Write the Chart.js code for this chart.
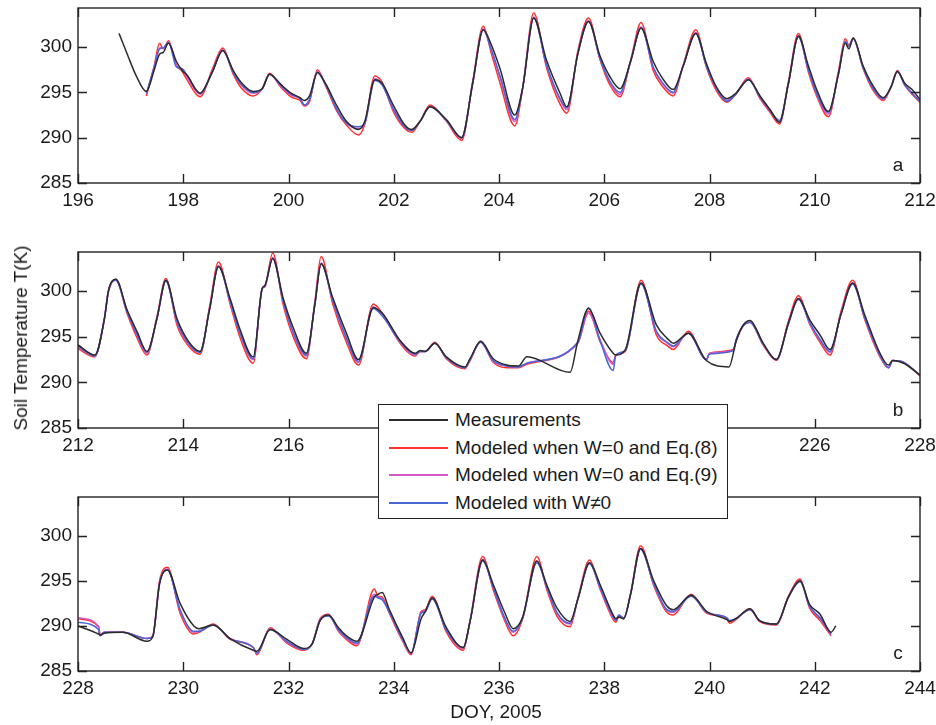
<!DOCTYPE html>
<html>
<head>
<meta charset="utf-8">
<script src="https://cdn.jsdelivr.net/npm/chart.js@4.4.0/dist/chart.umd.min.js"></script>
<style>
  body { margin: 0; background: #fff; }
  #wrap { position: relative; width: 936px; height: 725px; font-family: "Liberation Sans", Arial, sans-serif; color: #1a1a1a; }
  canvas { position: absolute; left: 0; }
  #ylab { position: absolute; left: 21px; top: 338px; transform: translate(-50%, -50%) rotate(-90deg); font-size: 19px; white-space: nowrap; }
  #xlab { position: absolute; left: 496px; top: 712px; transform: translate(-50%, -50%); font-size: 19px; white-space: nowrap; }
  #legend { position: absolute; left: 378px; top: 404px; width: 350px; height: 115px; box-sizing: border-box; border: 1.5px solid #222; background: #fff; z-index: 5; }
  .row { position: absolute; left: 10px; height: 24px; display: flex; align-items: center; font-size: 19px; white-space: nowrap; }
  .row .ln { display: inline-block; width: 59px; height: 2px; }
  .row .tx { margin-left: 7px; }
</style>
</head>
<body>
<div id="wrap">
  <canvas id="panelA" width="936" height="215" style="top:0px"></canvas>
  <canvas id="panelB" width="936" height="216" style="top:244px"></canvas>
  <canvas id="panelC" width="936" height="214" style="top:489px"></canvas>
  <div id="ylab">Soil Temperature T(K)</div>
  <div id="xlab">DOY, 2005</div>
  <div id="legend">
    <div class="row" style="top:3px"><span class="ln" style="background:#2b2b2b"></span><span class="tx">Measurements</span></div>
    <div class="row" style="top:31px"><span class="ln" style="background:#ff3030"></span><span class="tx">Modeled when W=0 and Eq.(8)</span></div>
    <div class="row" style="top:58px"><span class="ln" style="background:#d45ac8"></span><span class="tx">Modeled when W=0 and Eq.(9)</span></div>
    <div class="row" style="top:86px"><span class="ln" style="background:#4a66d6"></span><span class="tx">Modeled with W≠0</span></div>
  </div>
</div>
<script>
// panel a: DOY 196-212
const doyA = [196.78, 196.95, 197.10, 197.30, 197.45, 197.55, 197.62, 197.72, 197.87, 197.98,
  198.07, 198.32, 198.55, 198.75, 198.95, 199.10, 199.33, 199.50, 199.64, 199.85,
  200.05, 200.22, 200.30, 200.40, 200.55, 200.70, 200.92, 201.10, 201.33, 201.45,
  201.64, 201.78, 201.99, 202.21, 202.34, 202.50, 202.69, 203.00, 203.29, 203.50,
  203.70, 203.85, 204.02, 204.30, 204.45, 204.66, 204.90, 205.16, 205.29, 205.50,
  205.70, 205.92, 206.10, 206.30, 206.50, 206.70, 206.93, 207.10, 207.31, 207.50,
  207.74, 207.94, 208.13, 208.33, 208.50, 208.74, 208.96, 209.15, 209.33, 209.50,
  209.69, 209.88, 210.05, 210.26, 210.45, 210.58, 210.65, 210.73, 210.92, 211.10,
  211.30, 211.45, 211.57, 211.71, 211.85, 212.00];
const measA = [301.5, 299.0, 296.9, 295.1, 297.5, 299.2, 299.4, 300.4, 298.4, 297.4,
  296.9, 294.9, 297.2, 299.6, 297.4, 296.1, 295.1, 295.4, 297.0, 295.9,
  294.9, 294.4, 294.1, 294.6, 297.2, 296.0, 293.5, 291.8, 290.9, 291.8,
  296.4, 296.0, 293.6, 291.4, 290.9, 291.8, 293.4, 292.0, 290.0, 296.0,
  301.9, 300.3, 297.6, 292.5, 295.5, 303.2, 298.6, 294.9, 293.4, 299.3,
  302.8, 299.0, 296.8, 295.4, 298.4, 302.1, 298.4, 296.6, 295.3, 297.9,
  301.5, 298.2, 295.6, 294.3, 294.9, 296.4, 294.6, 293.1, 291.7, 296.0,
  301.2, 297.9, 295.1, 292.9, 297.0, 300.4, 299.8, 301.0, 297.9, 295.8,
  294.4, 295.6, 297.3, 296.0, 295.3, 294.2];
const eq8A = [null, null, null, 294.6, 298.0, 300.4, 299.8, 300.7, 298.0, 297.3,
  296.4, 294.5, 297.5, 299.9, 297.0, 295.5, 294.6, 295.4, 297.1, 295.6,
  294.5, 294.1, 293.5, 294.0, 297.5, 295.8, 292.9, 291.4, 290.3, 291.5,
  296.8, 296.1, 292.9, 291.0, 290.6, 291.8, 293.6, 291.8, 289.7, 296.2,
  302.3, 299.4, 296.0, 291.3, 295.5, 303.75, 297.8, 293.7, 292.7, 299.6,
  303.2, 298.6, 295.9, 294.5, 298.5, 302.7, 297.4, 295.7, 294.6, 298.0,
  301.9, 297.8, 295.2, 293.9, 294.8, 296.6, 294.3, 292.8, 291.5, 296.2,
  301.5, 297.2, 294.4, 292.3, 297.3, 300.9, 300.2, 301.0, 297.6, 295.3,
  294.1, 295.6, 297.4, 295.8, 294.8, 293.9];
const eq9A = [null, null, null, 294.8, 297.8, 299.9, 299.9, 300.5, 298.0, 297.5,
  296.7, 294.8, 297.3, 299.7, 297.2, 295.8, 294.9, 295.4, 297.0, 295.7,
  294.7, 294.3, 293.6, 294.2, 297.3, 295.9, 293.1, 291.6, 291.0, 291.6,
  296.5, 295.9, 293.1, 291.2, 290.8, 291.8, 293.4, 291.9, 289.9, 296.0,
  302.0, 299.7, 296.6, 291.8, 295.5, 303.3, 298.0, 294.2, 293.1, 299.4,
  302.9, 298.7, 296.2, 294.8, 298.4, 302.2, 297.7, 296.0, 294.9, 297.9,
  301.6, 297.9, 295.4, 294.1, 294.8, 296.5, 294.4, 293.0, 291.7, 296.0,
  301.2, 297.4, 294.6, 292.6, 297.1, 300.6, 300.1, 300.9, 297.7, 295.5,
  294.2, 295.6, 297.3, 295.9, 294.9, 294.0];
const wneA = [null, null, null, 294.9, 297.8, 299.8, 299.9, 300.5, 297.8, 297.6,
  296.9, 294.9, 297.2, 299.6, 297.2, 295.9, 295.0, 295.4, 297.0, 295.8,
  294.8, 294.3, 293.6, 294.2, 297.2, 295.9, 293.1, 291.6, 291.2, 291.6,
  296.3, 295.8, 293.2, 291.2, 290.8, 291.8, 293.4, 291.9, 290.0, 296.0,
  301.9, 299.8, 296.8, 292.0, 295.5, 303.2, 298.1, 294.3, 293.3, 299.3,
  302.8, 298.7, 296.3, 295.0, 298.4, 302.1, 297.8, 296.1, 295.0, 297.9,
  301.5, 297.9, 295.5, 294.0, 294.8, 296.4, 294.5, 293.0, 291.9, 296.0,
  301.1, 297.5, 294.7, 292.8, 297.0, 300.6, 300.1, 300.9, 297.7, 295.5,
  294.3, 295.6, 297.3, 295.8, 294.9, 294.0];

// panel b: DOY 212-228
const doyB = [212.00, 212.32, 212.50, 212.58, 212.72, 212.93, 213.12, 213.31, 213.50, 213.67,
  213.88, 214.10, 214.32, 214.50, 214.67, 214.89, 215.08, 215.33, 215.50, 215.55,
  215.70, 215.90, 216.09, 216.34, 216.50, 216.62, 216.84, 217.10, 217.33, 217.61,
  217.78, 218.12, 218.41, 218.50, 218.60, 218.78, 219.00, 219.35, 219.45, 219.65,
  219.89, 220.15, 220.37, 220.53, 221.35, 221.50, 221.70, 221.92, 222.17, 222.22,
  222.40, 222.70, 222.99, 223.20, 223.31, 223.60, 223.94, 224.00, 224.37, 224.45,
  224.51, 224.64, 224.77, 225.02, 225.27, 225.50, 225.69, 225.91, 226.10, 226.29,
  226.50, 226.72, 226.95, 227.24, 227.40, 227.48, 227.69, 228.00];
const measB = [294.1, 293.0, 296.9, 300.1, 301.3, 298.0, 295.6, 293.4, 297.0, 301.2,
  297.0, 294.5, 293.4, 298.0, 302.7, 299.2, 295.8, 292.8, 300.3, 300.6,
  303.6, 299.2, 296.0, 293.2, 298.5, 303.0, 299.3, 295.4, 292.5, 298.2,
  297.6, 294.6, 293.2, 293.5, 293.4, 294.3, 292.8, 291.7, 292.6, 294.5,
  292.6, 291.9, 291.8, 292.8, 291.1, 294.6, 298.1, 295.4, 293.2, 293.0,
  293.6, 300.9, 296.3, 294.8, 294.3, 295.4, 292.4, null, 291.7, null,
  294.6, 296.3, 296.8, 294.3, 292.5, 296.5, 299.2, 296.8, 295.2, 293.6,
  297.5, 300.9, 297.4, 293.2, 291.9, 292.4, 292.1, 290.8];
const eq8B = [293.7, 292.8, 297.0, 300.0, 301.3, 297.6, 294.9, 293.0, 297.2, 301.4,
  296.3, 294.0, 293.1, 298.3, 303.2, 298.6, 294.9, 292.1, 300.3, 300.5,
  304.2, 298.5, 295.0, 292.6, 298.8, 303.8, 298.6, 294.4, 291.9, 298.6,
  297.6, 294.3, 292.9, 293.4, 293.4, 294.4, 292.6, 291.5, 292.4, 294.5,
  292.2, 291.6, 291.6, 292.0, null, 294.4, 297.8, 294.5, 292.2, 293.0,
  293.4, 301.2, 295.2, 294.0, 293.6, 295.6, 292.5, 293.2, null, 293.6,
  294.6, 296.2, 296.6, 294.1, 292.4, 296.7, 299.5, 296.3, 294.4, 293.0,
  297.8, 301.2, 296.9, 292.8, 291.6, 292.4, 292.2, 290.7];
const eq9B = [293.9, 292.9, 296.9, 300.0, 301.2, 297.8, 295.2, 293.2, 297.0, 301.2,
  296.6, 294.2, 293.3, 298.1, 302.8, 298.8, 295.3, 292.5, 300.3, 300.5,
  303.7, 298.8, 295.4, 292.9, 298.6, 303.1, 298.9, 294.8, 292.2, 298.3,
  297.4, 294.4, 293.0, 293.4, 293.4, 294.3, 292.7, 291.6, 292.5, 294.4,
  292.3, 291.8, 291.7, 292.1, null, 294.3, 297.6, 294.7, 292.0, 293.0,
  293.5, 300.9, 295.5, 294.3, 293.9, 295.4, 292.5, 293.2, null, 293.5,
  294.7, 296.2, 296.6, 294.2, 292.5, 296.5, 299.2, 296.4, 294.6, 293.3,
  297.6, 300.9, 297.0, 292.9, 291.6, 292.4, 292.2, 290.8];
const wneB = [294.0, 292.9, 296.9, 300.1, 301.2, 297.8, 295.3, 293.3, 297.0, 301.1,
  296.7, 294.3, 293.3, 298.0, 302.7, 298.9, 295.4, 292.6, 300.3, 300.6,
  303.6, 298.9, 295.5, 293.0, 298.5, 303.0, 299.0, 294.9, 292.3, 298.1,
  297.3, 294.5, 293.1, 293.4, 293.4, 294.3, 292.7, 291.6, 292.5, 294.4,
  292.4, 291.8, 291.7, 292.1, null, 294.4, 298.2, 294.6, 291.3, 293.0,
  293.5, 300.8, 295.6, 294.4, 294.0, 295.4, 292.5, 293.1, null, 293.5,
  294.8, 296.2, 296.6, 294.2, 292.5, 296.4, 299.1, 296.5, 294.7, 293.4,
  297.5, 300.8, 297.1, 293.0, 291.6, 292.4, 292.2, 290.8];

// panel c: DOY 228-244
const doyC = [228.00, 228.39, 228.42, 228.50, 228.85, 229.31, 229.42, 229.55, 229.70, 229.94,
  230.20, 230.30, 230.57, 230.89, 231.33, 231.40, 231.65, 231.97, 232.29, 232.45,
  232.60, 232.76, 232.95, 233.08, 233.30, 233.63, 233.70, 233.78, 233.91, 234.17,
  234.33, 234.52, 234.60, 234.73, 235.00, 235.32, 235.45, 235.69, 235.89, 236.10,
  236.27, 236.45, 236.72, 236.91, 237.10, 237.35, 237.50, 237.72, 237.92, 238.17,
  238.22, 238.28, 238.37, 238.50, 238.69, 238.94, 239.19, 239.31, 239.65, 239.95,
  240.33, 240.38, 240.50, 240.77, 240.95, 241.27, 241.50, 241.72, 241.90, 242.10,
  242.31, 242.40];
const measC = [290.0, 289.1, 289.0, 289.2, 289.3, 288.3, 288.8, 294.7, 296.2, 292.5,
  290.0, 289.7, 290.1, 288.6, 287.3, 287.2, 289.6, 288.5, 287.5, 288.0,
  290.6, 291.2, 289.8, 289.0, 288.3, 293.2, 293.5, 293.7, 291.9, 288.7,
  287.0, 290.8, 291.6, 293.1, 289.8, 287.6, 290.5, 297.3, 294.6, 291.6,
  289.7, 291.0, 297.2, 294.5, 292.0, 290.5, 293.0, 297.0, 294.6, 291.2,
  290.8, 291.0, 290.8, 293.5, 298.6, 295.0, 292.2, 291.8, 293.4, 291.6,
  290.7, 290.5, 290.8, 291.9, 290.6, 290.2, 293.2, 295.0, 292.4, 291.3,
  289.3, 290.0];
const eq8C = [290.8, 289.9, 288.9, 289.3, 289.3, 288.6, 288.9, 295.0, 296.5, 291.4,
  289.1, 289.3, 290.2, 288.5, 287.6, 286.8, 289.8, 288.1, 287.3, 288.0,
  290.8, 291.3, 289.4, 288.6, 287.8, 294.1, 293.3, 293.2, 291.5, 288.3,
  286.8, 291.6, 291.8, 293.3, 289.3, 287.3, 290.6, 297.7, 294.0, 290.7,
  288.9, 290.8, 297.7, 294.0, 291.1, 289.9, 293.1, 297.3, 294.1, 290.7,
  290.4, 291.1, 290.8, 293.6, 298.9, 294.5, 291.5, 291.2, 293.5, 291.4,
  290.8, 290.3, 290.7, 291.9, 290.5, 290.1, 293.3, 295.2, 292.0, 290.6,
  288.9, null];
const eq9C = [290.9, 290.0, 289.0, 289.3, 289.3, 288.6, 288.8, 294.8, 296.3, 291.7,
  289.3, 289.4, 290.1, 288.6, 287.6, 286.9, 289.7, 288.2, 287.4, 288.0,
  290.7, 291.2, 289.5, 288.7, 288.0, 293.5, 293.2, 293.0, 291.6, 288.4,
  286.9, 291.5, 291.7, 293.1, 289.5, 287.5, 290.5, 297.4, 294.2, 290.9,
  289.3, 290.9, 297.2, 294.2, 291.4, 290.2, 293.0, 297.0, 294.2, 290.9,
  290.6, 291.2, 290.9, 293.5, 298.6, 294.6, 291.7, 291.5, 293.4, 291.5,
  290.9, 290.5, 290.8, 291.8, 290.6, 290.2, 293.2, 295.0, 292.2, 290.8,
  289.0, null];
const wneC = [290.4, 289.6, 288.9, 289.3, 289.3, 288.6, 288.8, 294.7, 296.2, 291.8,
  289.4, 289.4, 290.1, 288.6, 287.6, 287.0, 289.6, 288.3, 287.4, 288.0,
  290.6, 291.1, 289.6, 288.8, 288.1, 293.3, 293.1, 292.9, 291.6, 288.5,
  287.0, 291.4, 291.6, 293.0, 289.5, 287.6, 290.5, 297.2, 294.3, 291.0,
  289.4, 290.9, 297.0, 294.3, 291.5, 290.3, 293.0, 296.9, 294.3, 291.0,
  290.6, 291.2, 290.9, 293.5, 298.5, 294.7, 291.8, 291.6, 293.3, 291.5,
  290.9, 290.6, 290.8, 291.8, 290.6, 290.2, 293.2, 294.9, 292.2, 290.9,
  289.1, null];

const FONT = '"Liberation Sans", Arial, sans-serif';
const seriesNames = ['Measurements', 'Modeled when W=0 and Eq.(8)', 'Modeled when W=0 and Eq.(9)', 'Modeled with W≠0'];
const seriesColors = ['#2b2b2b', '#ff3030', '#d45ac8', '#4a66d6'];
const drawOrder = [0, 3, 2, 1];

// box around plot area, inward ticks on all four sides, panel letter
const boxTicks = {
    id: 'boxTicks',
    afterDraw(chart) {
        const { ctx, chartArea: a, scales: { x, y } } = chart;
        const len = 9;
        ctx.save();
        ctx.strokeStyle = '#222';
        ctx.lineWidth = 1.4;
        ctx.strokeRect(a.left, a.top, a.width, a.height);
        ctx.beginPath();
        x.ticks.forEach(t => {
            const px = Math.round(x.getPixelForValue(t.value)) + 0.5;
            ctx.moveTo(px, a.bottom); ctx.lineTo(px, a.bottom - len);
            ctx.moveTo(px, a.top); ctx.lineTo(px, a.top + len);
        });
        y.ticks.forEach(t => {
            const py = Math.round(y.getPixelForValue(t.value)) + 0.5;
            ctx.moveTo(a.left, py); ctx.lineTo(a.left + len, py);
            ctx.moveTo(a.right, py); ctx.lineTo(a.right - len, py);
        });
        ctx.stroke();
        ctx.fillStyle = '#1a1a1a';
        ctx.font = '19px ' + FONT;
        ctx.textAlign = 'center';
        ctx.textBaseline = 'middle';
        ctx.fillText(chart.options.plugins.boxTicks.letter, a.right - 22, a.bottom - 17);
        ctx.restore();
    }
};

function makePanel(id, doy, series, xMin, xMax, letter) {
    const datasets = series.map((vals, k) => ({
        label: seriesNames[k],
        data: doy.map((d, i) => ({ x: d, y: vals[i] })),
        borderColor: seriesColors[k],
        borderWidth: 1.5,
        pointRadius: 0,
        spanGaps: true,
        cubicInterpolationMode: 'monotone',
        order: drawOrder[k]
    }));
    const tickFont = { family: FONT, size: 19 };
    new Chart(document.getElementById(id), {
        type: 'line',
        data: { datasets },
        options: {
            responsive: false,
            animation: false,
            devicePixelRatio: 1,
            layout: { padding: { top: 8, right: 16, left: 0, bottom: 0 } },
            scales: {
                x: {
                    type: 'linear', min: xMin, max: xMax,
                    ticks: { stepSize: 2, autoSkip: false, maxRotation: 0, padding: 6, color: '#1a1a1a', font: tickFont },
                    grid: { display: false, drawTicks: false },
                    border: { display: false },
                    afterFit: s => { s.height = 32; s.paddingLeft = 0; s.paddingRight = 0; }
                },
                y: {
                    min: 285, max: 304.3,
                    ticks: { stepSize: 5, includeBounds: false, padding: 6, color: '#1a1a1a', font: tickFont },
                    grid: { display: false, drawTicks: false },
                    border: { display: false },
                    afterFit: s => { s.width = 78; s.paddingTop = 0; s.paddingBottom = 0; }
                }
            },
            plugins: {
                legend: { display: false },
                tooltip: { enabled: false },
                boxTicks: { letter: letter }
            }
        },
        plugins: [boxTicks]
    });
}

makePanel('panelA', doyA, [measA, eq8A, eq9A, wneA], 196, 212, 'a');
makePanel('panelB', doyB, [measB, eq8B, eq9B, wneB], 212, 228, 'b');
makePanel('panelC', doyC, [measC, eq8C, eq9C, wneC], 228, 244, 'c');
</script>
</body>
</html>
